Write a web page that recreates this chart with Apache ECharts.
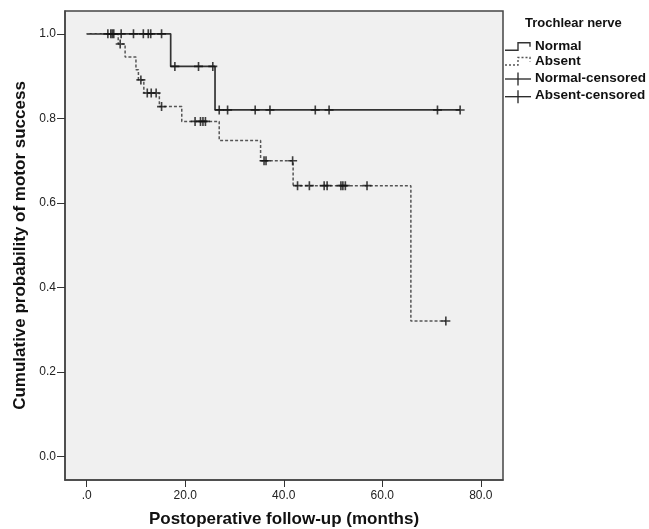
<!DOCTYPE html>
<html lang="en">
  <head>
    <meta charset="UTF-8" />
    <title>Motor success by trochlear nerve</title>
    <script src="https://cdn.jsdelivr.net/npm/echarts@6/dist/echarts.min.js"></script>
    <style>
      html, body { margin: 0; padding: 0; background: #fff; }
      #chart { width: 649px; height: 529px; }
    </style>
  </head>
  <body>
    <div id="chart"></div>
    <script>
      // ticks
      const monthTicks = [0, 20, 40, 60, 80];
      const probTicks = [0, 0.2, 0.4, 0.6, 0.8, 1.0];

      // Kaplan-Meier steps [month, probability]
      const normalCurve = [[0, 1], [17.05, 0.923], [26.05, 0.82], [75.8, 0.82]];
      const absentCurve = [
        [0, 1], [6.4, 0.976], [7.8, 0.945], [10.0, 0.915], [10.5, 0.891],
        [11.6, 0.86], [14.75, 0.828], [19.3, 0.793], [26.9, 0.748],
        [35.3, 0.70], [41.9, 0.641], [65.8, 0.321], [72.9, 0.321]
      ];

      // censored cases
      const normalCensored = [
        [4.9, 1], [5.5, 1], [7.0, 1], [9.5, 1], [11.5, 1], [12.5, 1], [13.0, 1], [15.2, 1],
        [17.9, 0.923], [22.7, 0.923], [25.6, 0.923],
        [26.9, 0.82], [28.6, 0.82], [34.2, 0.82], [37.2, 0.82], [46.4, 0.82],
        [49.2, 0.82], [71.2, 0.82], [75.8, 0.82]
      ];
      const absentCensored = [
        [4.3, 1], [5.2, 1], [6.8, 0.976], [11.0, 0.891],
        [12.3, 0.86], [13.1, 0.86], [14.1, 0.86], [15.2, 0.828],
        [22.0, 0.793], [23.1, 0.793], [23.6, 0.793], [24.1, 0.793],
        [36.0, 0.70], [36.4, 0.70], [41.8, 0.70],
        [42.8, 0.641], [45.2, 0.641], [48.2, 0.641], [48.8, 0.641],
        [51.6, 0.641], [52.0, 0.641], [52.5, 0.641], [56.9, 0.641],
        [72.9, 0.321]
      ];

      const legendTitle = "Trochlear nerve";
      const legendNames = ["Normal", "Absent", "Normal-censored", "Absent-censored"];

      const font = "Arial, 'Liberation Sans', sans-serif";
      const plus = "path://M4.1,0h1.8v10h-1.8z M0,4.1h10v1.8h-10z";

      const chart = echarts.init(document.getElementById("chart"));

      // legend drawn by hand (SPSS style)
      const legendX = 505, textX = 535;
      const rowY = [47.7, 62.5, 79, 96.7];
      const legendGraphics = [
        {
          type: "text", left: 525, top: 17,
          style: { text: legendTitle, font: "bold 13px " + font, fill: "#111" }
        }
      ];
      [0, 1].forEach(i => {
        const y = rowY[i];
        legendGraphics.push({
          type: "polyline",
          shape: { points: [[legendX, y + 2.5], [legendX + 13, y + 2.5], [legendX + 13, y - 5], [legendX + 25, y - 5], [legendX + 25, y - 1]] },
          style: { stroke: i === 0 ? "#333" : "#555", lineWidth: 1.4, fill: null, lineDash: i === 0 ? null : [2, 2] }
        });
      });
      [2, 3].forEach(i => {
        const y = rowY[i];
        legendGraphics.push({
          type: "line", shape: { x1: legendX, y1: y, x2: legendX + 26, y2: y },
          style: { stroke: "#222", lineWidth: 1.3 }
        });
        legendGraphics.push({
          type: "line", shape: { x1: legendX + 13, y1: y - 6.5, x2: legendX + 13, y2: y + 6.5 },
          style: { stroke: "#222", lineWidth: 1.3 }
        });
      });
      legendNames.forEach((n, i) => {
        legendGraphics.push({
          type: "text", left: textX, top: rowY[i] - 8,
          style: { text: n, font: "bold 13.5px " + font, fill: "#111" }
        });
      });

      const option = {
        animation: false,
        backgroundColor: "#fff",
        textStyle: { fontFamily: font },
        grid: {
          left: 65, top: 11, width: 438, height: 469,
          outerBoundsMode: "none",
          show: true, backgroundColor: "#f0f0f0",
          borderColor: "#444", borderWidth: 1.5
        },
        xAxis: {
          type: "value",
          min: -4.4, max: 84.5,
          name: "Postoperative follow-up (months)",
          nameLocation: "middle", nameGap: 31,
          nameTextStyle: { fontSize: 17, fontWeight: "bold", color: "#111" },
          splitLine: { show: false },
          axisLine: { show: true, onZero: false, lineStyle: { color: "#444", width: 1.5 } },
          axisTick: { show: true, inside: false, length: 7, customValues: monthTicks, lineStyle: { color: "#333" } },
          axisLabel: {
            customValues: monthTicks, margin: 10, fontSize: 12, color: "#222",
            formatter: v => (v === 0 ? ".0" : v.toFixed(1))
          }
        },
        yAxis: {
          type: "value",
          min: -0.055, max: 1.054,
          name: "Cumulative probability of motor success",
          nameLocation: "middle", nameGap: 36, nameRotate: 90,
          nameTextStyle: { fontSize: 17, fontWeight: "bold", color: "#111" },
          splitLine: { show: false },
          axisLine: { show: true, onZero: false, lineStyle: { color: "#444", width: 1.5 } },
          axisTick: { show: true, inside: false, length: 8, customValues: probTicks, lineStyle: { color: "#333" } },
          axisLabel: {
            customValues: probTicks, margin: 9, fontSize: 12, color: "#222",
            formatter: v => v.toFixed(1)
          }
        },
        graphic: legendGraphics,
        series: [
          {
            name: legendNames[0], type: "line", step: "end", data: normalCurve,
            symbol: "none", lineStyle: { color: "#333", width: 1.7 }, z: 3
          },
          {
            name: legendNames[1], type: "line", step: "end", data: absentCurve,
            symbol: "none", lineStyle: { color: "#555", width: 1.5, type: [3, 2] }, z: 3
          },
          {
            name: legendNames[2], type: "scatter", data: normalCensored,
            symbol: plus, symbolSize: 9, itemStyle: { color: "#111" }, z: 4
          },
          {
            name: legendNames[3], type: "scatter", data: absentCensored,
            symbol: plus, symbolSize: 9, itemStyle: { color: "#111" }, z: 4
          }
        ]
      };
      chart.setOption(option);
    </script>
  </body>
</html>
